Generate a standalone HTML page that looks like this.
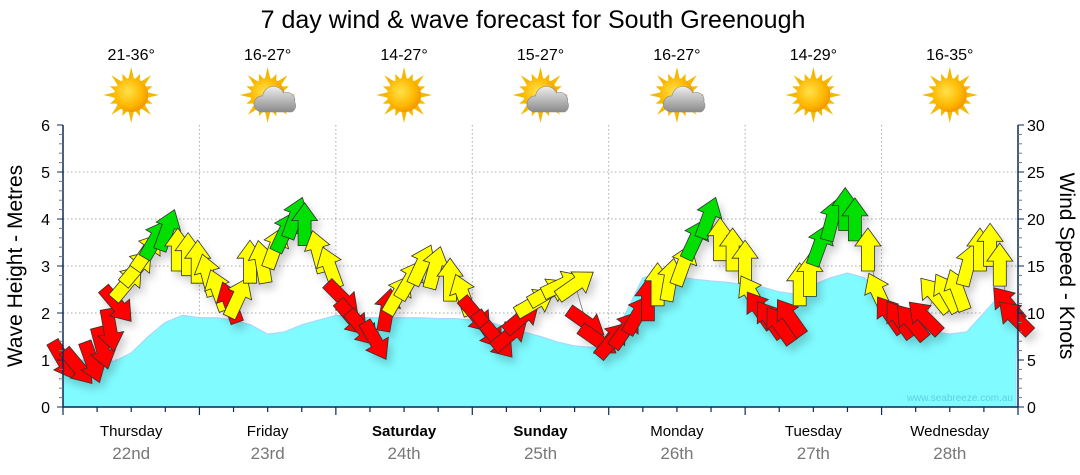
<!DOCTYPE html>
<html><head><meta charset="utf-8">
<style>
html,body{margin:0;padding:0;background:#fff;}
svg{display:block;font-family:"Liberation Sans","DejaVu Sans",sans-serif;}
</style></head>
<body>
<svg id="chart" width="1080" height="475" viewBox="0 0 1080 475">
<defs>
<radialGradient id="sunG" cx="40%" cy="40%" r="60%"><stop offset="0" stop-color="#ffe14a"/><stop offset="0.7" stop-color="#ffb800"/><stop offset="1" stop-color="#f39a00"/></radialGradient>
<linearGradient id="cloudG" x1="0" y1="0" x2="0" y2="1"><stop offset="0" stop-color="#eeeeee"/><stop offset="1" stop-color="#8a8a8a"/></linearGradient>
<filter id="sh" x="-50%" y="-50%" width="200%" height="200%"><feDropShadow dx="4" dy="6" stdDeviation="4" flood-color="#000" flood-opacity="0.18"/></filter>
</defs>
<text x="533" y="28" text-anchor="middle" font-size="25" fill="#000">7 day wind &amp; wave forecast for South Greenough</text>
<g id="grid"></g>
<g id="wave"></g>
<g id="wind" filter="url(#sh)"></g>
<g id="axes"></g>
<g id="topg"></g>
<text x="1013" y="401" text-anchor="end" font-size="10" fill="#5fd0e0">www.seabreeze.com.au</text>
<text transform="translate(22,266) rotate(-90)" text-anchor="middle" font-size="21" fill="#000">Wave Height - Metres</text>
<text transform="translate(1060,266) rotate(90)" text-anchor="middle" font-size="21" fill="#000">Wind Speed - Knots</text>
</svg>
<script>
const days=["Thursday","Friday","Saturday","Sunday","Monday","Tuesday","Wednesday"];
const dates=["22nd","23rd","24th","25th","26th","27th","28th"];
const boldDays=[false,false,true,true,false,false,false];
const temps=["21-36°","16-27°","14-27°","15-27°","16-27°","14-29°","16-35°"];
const cloudy=[false,true,false,true,true,false,false];
const leftTicks=[0,1,2,3,4,5,6];
const rightTicks=[0,5,10,15,20,25,30];
// wave height, 3-hourly from start
const waveH=[0.9,1.0,0.98,0.97,1.15,1.5,1.8,1.95,1.9,1.9,1.85,1.75,1.55,1.6,1.75,1.85,1.95,1.92,1.9,1.9,1.9,1.9,1.88,1.88,1.85,1.8,1.7,1.6,1.5,1.38,1.3,1.27,1.3,2.0,2.75,2.85,2.78,2.72,2.68,2.65,2.6,2.55,2.45,2.4,2.6,2.75,2.85,2.75,2.3,1.95,1.75,1.6,1.55,1.6,2.0,2.4,2.0];
// wind: hour offset, knots, arrow heading (deg, 0=up), colour code
const windHour=[0,2.6,5.1,6.9,8.3,9.5,11.3,13.0,14.8,16.2,18.3,20.2,22.0,23.7,25.5,27.3,29.4,30.8,32.9,35.0,37.3,39.0,40.8,42.5,44.9,47.0,49.1,50.8,52.6,54.9,57.0,58.9,61.0,63.1,65.4,68.1,70.4,72.6,74.8,76.5,78.6,80.7,83.0,85.3,87.8,90.1,92.0,94.1,96.6,98.9,101.1,102.9,104.6,106.8,109.1,111.2,113.5,115.6,117.8,120.0,121.2,122.6,124.4,126.1,127.9,129.6,131.4,133.1,135.3,137.6,139.3,141.6,143.4,145.5,147.2,149.3,151.6,153.4,155.5,157.4,159.2,161.3,163.1,164.8,166.2,167.5];
const windKn=[5.0,4.3,4.8,6.3,8.2,10.9,13.2,14.8,16.5,17.8,18.8,16.7,16.2,15.4,14.0,12.4,11.1,11.6,15.4,15.4,16.9,18.6,20.1,19.4,16.5,14.8,11.6,9.5,8.4,7.1,10.3,11.9,13.5,15.1,14.8,13.5,11.9,9.8,8.2,7.1,7.7,9.5,11.1,12.2,13.0,13.0,9.0,7.1,7.1,8.2,9.8,11.4,13.0,13.5,15.1,17.8,20.1,17.8,16.7,15.4,11.9,10.3,9.3,8.7,9.5,13.0,14.0,17.2,19.9,21.0,19.9,16.7,12.1,9.8,9.3,9.0,9.5,11.9,12.1,12.4,15.1,16.7,17.2,15.1,10.9,9.5];
const windDir=[150,140,160,165,170,140,40,40,35,30,20,0,0,0,-15,-20,-20,25,0,-10,20,25,20,0,-15,-20,135,140,140,150,10,30,30,25,15,0,-20,140,145,140,50,50,60,60,65,55,125,125,40,35,30,0,0,10,20,25,20,0,0,0,-30,-35,-35,-35,-35,0,0,20,15,0,0,0,-25,-35,-35,-40,-45,-40,-30,-20,15,0,0,0,-40,-45];
const windCol="RRRRRRYYYGGYYYYYRY"+"YYYGGGYYR"+"RRRRYYYYYYR"+"RRRRYYYYRR"+"RRRRYYYGGYYYYR"+"RRRYYGGGGYYRRRR"+"YYYYYYYRR";

const NS="http://www.w3.org/2000/svg";
const X0=63,X1=1018,YB=407,YT=125;
const xH=h=>X0+h/168*(X1-X0);
const yM=m=>YB-m/6*(YB-YT);
const yK=k=>YB-k/30*(YB-YT);
function mk(tag,attrs,parent){const e=document.createElementNS(NS,tag);for(const k in attrs)e.setAttribute(k,attrs[k]);parent.appendChild(e);return e;}
const gridG=document.getElementById('grid'),axesG=document.getElementById('axes'),topG=document.getElementById('topg');

for(const t of leftTicks){if(t===0||t===6)continue;
 const l=mk('line',{x1:X0,x2:X1,y1:yM(t),y2:yM(t),stroke:'#aaa','stroke-dasharray':'1.5,2.5'},gridG);
 
 }
for(let d=1;d<7;d++){
 const l=mk('line',{x1:xH(d*24),x2:xH(d*24),y1:YT,y2:YB,stroke:'#aaa','stroke-dasharray':'1.5,2.5'},gridG);
 
 }

let pts=`M${X0},${YB} `;
waveH.forEach((v,i)=>{pts+=`L${xH(i*3).toFixed(1)},${yM(v).toFixed(1)} `;});
pts+=`L${X1-2},${yM(1.0)} L${X1-2},${YB} Z`;
const wa=mk('path',{d:pts,fill:'#80fbff',stroke:'#a8d8ff','stroke-width':1.2},document.getElementById('wave'));



const colMap={R:'#ff0000',Y:'#ffff00',G:'#00e000'};
const windG=document.getElementById('wind');
let lp='';
windHour.forEach((h,i)=>{lp+=(i?'L':'M')+xH(h).toFixed(1)+','+yK(windKn[i]).toFixed(1)+' ';});
const ln=mk('path',{d:lp,fill:'none',stroke:'#777','stroke-width':0.8},windG);


windHour.forEach((h,i)=>{
 const a=mk('polygon',{points:'0,-22 13,-4 6.5,-4 6.5,21 -6.5,21 -6.5,-4 -13,-4',fill:colMap[windCol[i]]||'#ffff00',stroke:'#333','stroke-width':0.8,
  transform:`translate(${xH(h).toFixed(1)},${yK(windKn[i]).toFixed(1)}) rotate(${windDir[i]})`},windG);
 
 
});

const axC='#0b2a55';
mk('line',{x1:X0,x2:X0,y1:YT,y2:YB,stroke:axC,'stroke-width':1.5},axesG);
mk('line',{x1:X1,x2:X1,y1:YT,y2:YB,stroke:axC,'stroke-width':1.5},axesG);
mk('line',{x1:X0,x2:X1,y1:YB,y2:YB,stroke:axC,'stroke-width':1.5},axesG);
for(let n=0;n<=30;n++){const m=n*0.2;const y=yM(m);const major=n%5===0;
 mk('line',{x1:X0-(major?6:4),x2:X0,y1:y,y2:y,stroke:major?axC:'#777'},axesG);}
for(let k=0;k<=30;k++){const y=yK(k);const major=k%5===0;
 mk('line',{x1:X1,x2:X1+(major?6:4),y1:y,y2:y,stroke:major?axC:'#777'},axesG);}
for(const t of leftTicks){const e=mk('text',{x:50,y:yM(t)+6,'text-anchor':'end','font-size':16,fill:'#000'},axesG);e.textContent=t;
 
 }
for(const t of rightTicks){const e=mk('text',{x:1027,y:yK(t)+6,'text-anchor':'start','font-size':16,fill:'#000'},axesG);e.textContent=t;
 
 }
for(let h=0;h<=168;h+=6){const x=xH(h);const major=h%24===0;
 mk('line',{x1:x,x2:x,y1:YB,y2:YB+(major?8:5),stroke:axC,'stroke-width':1.2},axesG);}
days.forEach((d,i)=>{const cx=xH(i*24+12);
 const e=mk('text',{x:cx,y:436,'text-anchor':'middle','font-size':15,fill:'#000','font-weight':boldDays[i]?'bold':'normal'},axesG);e.textContent=d;
 
 
 const f=mk('text',{x:cx,y:459,'text-anchor':'middle','font-size':17,fill:'#777'},axesG);f.textContent=dates[i];
 
 
 const t=mk('text',{x:cx,y:60,'text-anchor':'middle','font-size':16,fill:'#000'},topG);t.textContent=temps[i];
 
 
 const g=mk('g',{transform:`translate(${cx},95)`},topG);
 
 
 for(let r=0;r<16;r++){const ang=r*22.5;const L=r%2?23:28;
  mk('polygon',{points:`0,${-L} 3,-15 -3,-15`,fill:'#f5b800',transform:`rotate(${ang})`},g);}
 mk('circle',{cx:0,cy:0,r:17,fill:'url(#sunG)'},g);
 if(cloudy[i]){
  mk('path',{d:'M-6,17 a8,8 0 0 1 1,-16 a11,11 0 0 1 21,-3 a8,8 0 0 1 11,9 a7,7 0 0 1 -3,10 Z',fill:'url(#cloudG)',stroke:'#888','stroke-width':0.6},g);
 }
});
</script>
</body></html>
